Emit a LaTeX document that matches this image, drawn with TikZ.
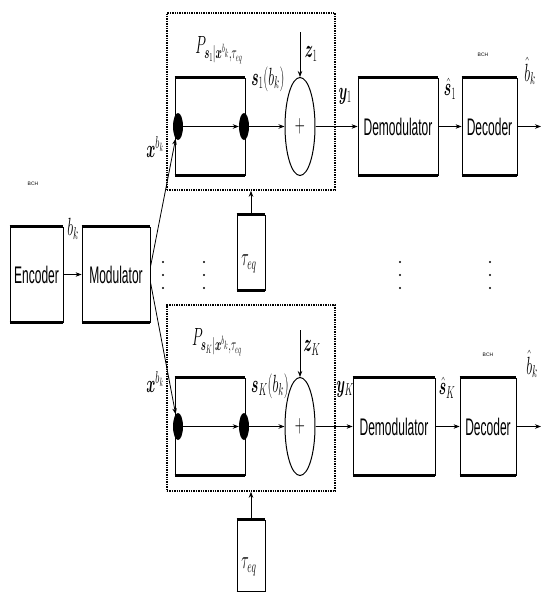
\documentclass[tikz,border=0pt]{standalone}
\usepackage[no-math]{fontspec}
\setmainfont{Liberation Sans}
\usepackage{bm}
\usetikzlibrary{arrows.meta,shapes.geometric}
\newcommand{\bxt}[1]{\scalebox{0.5}[1]{\fontsize{24}{24}\selectfont #1}}
\newcommand{\lb}[1]{\scalebox{0.56}[1]{\fontsize{24}{24}\selectfont$#1$}}
\newcommand{\bars}[1]{\draw[line width=3pt] (#1.north west) -- (#1.north east) (#1.south west) -- (#1.south east);}
\begin{document}
\begin{tikzpicture}[x=1pt,y=-1pt,
  blk/.style={draw, line width=0.8pt, inner sep=0pt},
  grp/.style={draw, line width=1.6pt, dash pattern=on 1.4pt off 1pt, inner sep=0pt},
  dotn/.style={ellipse, fill, minimum width=10pt, minimum height=27pt, inner sep=0pt},
  adder/.style={ellipse, draw, line width=1pt, minimum width=30pt, minimum height=98pt, inner sep=0pt},
  arr/.style={-{Stealth[length=6pt,width=4.5pt]}, line width=0.8pt},
  lbl/.style={inner sep=0pt},
  bch/.style={inner sep=0pt, font=\fontsize{5}{5}\selectfont}]
\useasboundingbox (0,0) rectangle (541,592);
% left part
\node[blk, minimum width=53pt, minimum height=95pt] (enc) at (36.5,274.5) {\bxt{Encoder}};
\node[blk, minimum width=68pt, minimum height=95pt] (mod) at (116,274.5) {\bxt{Modulator}};
\bars{enc}\bars{mod}
\node[bch] (bch0) at (33,184) {BCH};
\node[lbl] (bk) at (73,229) {\lb{b_k}};
\draw[arr] (enc) -- (mod);
% top branch
\node[grp, minimum width=168pt, minimum height=177pt] (g1) at (251,101.5) {};
\node[blk, minimum width=70pt, minimum height=97pt] (p1) at (210,126.5) {};
\node[dotn] (a1) at (178,126.5) {};
\node[dotn] (b1) at (244,126.5) {};
\node[adder] (s1) at (300,126.5) {\lb{+}};
\node[blk, minimum width=80pt, minimum height=97pt] (dm1) at (398,126.5) {\bxt{Demodulator}};
\node[blk, minimum width=55pt, minimum height=97pt] (dc1) at (489.5,126.5) {\bxt{Decoder}};
\node[blk, minimum width=28pt, minimum height=75pt] (t1) at (251,252.5) {};
\node[lbl] (lt1) at (249,264) {\lb{\tau_{eq}}};
\bars{p1}\bars{dm1}\bars{dc1}\bars{t1}
\coordinate (z1) at (300,32);
\coordinate (o1) at (541,126.5);
\draw[arr] (a1) -- (b1);
\draw[arr] (b1) -- (s1);
\draw[arr] (z1) -- (s1);
\draw[arr] (s1) -- (dm1);
\draw[arr] (dm1) -- (dc1);
\draw[arr] (dc1) -- (o1);
\draw[arr] (t1) -- (g1);
\draw[arr] (mod.12) -- (a1);
\node[lbl] (lp1) at (219,50) {\lb{P_{\bm{s}_1|\bm{x}^{b_k},\tau_{eq}}}};
\node[lbl] (ls1) at (268,79) {\lb{\bm{s}_1(b_k)}};
\node[lbl] (lz1) at (311,54) {\lb{\bm{z}_1}};
\node[lbl] (ly1) at (345,96) {\lb{\bm{y}_1}};
\node[lbl] (lh1) at (450,89) {\lb{\hat{\bm{s}}_1}};
\node[lbl] (lb1) at (530,71) {\lb{\hat{b}_k}};
\node[bch] (bch1) at (483,55) {BCH};
\node[lbl] (lx1) at (155,147) {\lb{\bm{x}^{b_k}}};
% bottom branch
\node[grp, minimum width=168pt, minimum height=186pt] (g2) at (251,398) {};
\node[blk, minimum width=70pt, minimum height=97pt] (p2) at (210,426.5) {};
\node[dotn] (a2) at (178,426.5) {};
\node[dotn] (b2) at (244,426.5) {};
\node[adder] (s2) at (300,426.5) {\lb{+}};
\node[blk, minimum width=82pt, minimum height=97pt] (dm2) at (394,426.5) {\bxt{Demodulator}};
\node[blk, minimum width=56pt, minimum height=97pt] (dc2) at (488,426.5) {\bxt{Decoder}};
\node[blk, minimum width=28pt, minimum height=72pt] (t2) at (251,556) {};
\node[lbl] (lt2) at (249,567) {\lb{\tau_{eq}}};
\bars{p2}\bars{dm2}\bars{dc2}\bars{t2}
\coordinate (z2) at (300,330);
\coordinate (o2) at (541,426.5);
\draw[arr] (a2) -- (b2);
\draw[arr] (b2) -- (s2);
\draw[arr] (z2) -- (s2);
\draw[arr] (s2) -- (dm2);
\draw[arr] (dm2) -- (dc2);
\draw[arr] (dc2) -- (o2);
\draw[arr] (t2) -- (g2);
\draw[arr] (mod.-12) -- (a2);
\node[lbl] (lp2) at (217,342) {\lb{P_{\bm{s}_K|\bm{x}^{b_k},\tau_{eq}}}};
\node[lbl] (ls2) at (270,386) {\lb{\bm{s}_K(b_k)}};
\node[lbl] (lz2) at (312,348) {\lb{\bm{z}_K}};
\node[lbl] (ly2) at (345,389) {\lb{\bm{y}_K}};
\node[lbl] (lh2) at (447,388) {\lb{\hat{\bm{s}}_K}};
\node[lbl] (lb2) at (532,364) {\lb{\hat{b}_k}};
\node[bch] (bch2) at (488,355) {BCH};
\node[lbl] (lx2) at (155,382) {\lb{\bm{x}^{b_k}}};
% vertical dots
\foreach \x in {163,204,400,490}
  \foreach \y in {262,275,288}
    \fill (\x,\y) circle (1.2pt);
\end{tikzpicture}
\end{document}
